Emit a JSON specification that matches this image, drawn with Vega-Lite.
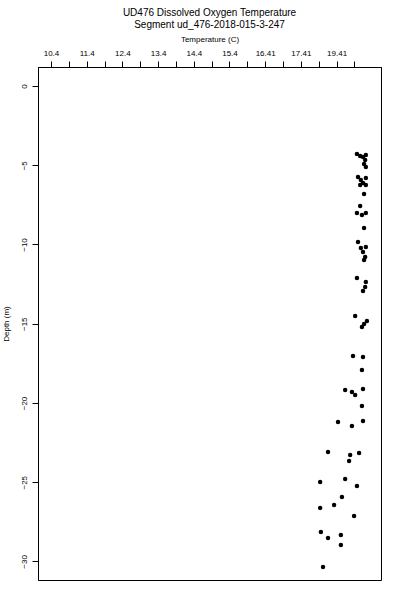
{
  "$schema": "https://vega.github.io/schema/vega-lite/v6.json",
  "autosize": {"type": "none"},
  "width": 343,
  "height": 513,
  "padding": {"left": 38, "top": 67, "right": 19, "bottom": 20},
  "background": "white",
  "title": {
    "text": ["UD476 Dissolved Oxygen Temperature", "Segment ud_476-2018-015-3-247"],
    "font": "Liberation Sans",
    "fontSize": 10,
    "fontWeight": "normal",
    "lineHeight": 12,
    "anchor": "middle",
    "color": "black",
    "offset": 5
  },
  "config": {
    "view": {"stroke": "black", "strokeWidth": 1},
    "axis": {
      "grid": false,
      "domainColor": "black",
      "tickColor": "black",
      "labelColor": "black",
      "titleColor": "black",
      "labelFont": "Liberation Sans",
      "titleFont": "Liberation Sans",
      "labelFontSize": 8,
      "titleFontSize": 8,
      "titleFontWeight": "normal",
      "tickSize": 6
    }
  },
  "data": {
    "values": [
      {"temp": 18.97, "depth": -4.29},
      {"temp": 19.06, "depth": -4.42},
      {"temp": 19.14, "depth": -4.48},
      {"temp": 19.22, "depth": -4.35},
      {"temp": 19.20, "depth": -4.67},
      {"temp": 19.17, "depth": -4.92},
      {"temp": 19.22, "depth": -5.11},
      {"temp": 19.00, "depth": -5.74},
      {"temp": 19.08, "depth": -5.93},
      {"temp": 19.22, "depth": -5.80},
      {"temp": 19.14, "depth": -6.12},
      {"temp": 19.06, "depth": -6.25},
      {"temp": 19.22, "depth": -6.25},
      {"temp": 19.17, "depth": -6.81},
      {"temp": 19.06, "depth": -7.57},
      {"temp": 18.97, "depth": -8.01},
      {"temp": 19.11, "depth": -8.14},
      {"temp": 19.22, "depth": -8.01},
      {"temp": 19.17, "depth": -8.96},
      {"temp": 19.00, "depth": -9.84},
      {"temp": 19.08, "depth": -10.22},
      {"temp": 19.22, "depth": -10.16},
      {"temp": 19.14, "depth": -10.47},
      {"temp": 19.20, "depth": -10.79},
      {"temp": 19.17, "depth": -10.98},
      {"temp": 18.97, "depth": -12.11},
      {"temp": 19.22, "depth": -12.37},
      {"temp": 19.20, "depth": -12.68},
      {"temp": 19.14, "depth": -12.93},
      {"temp": 18.92, "depth": -14.51},
      {"temp": 19.25, "depth": -14.83},
      {"temp": 19.17, "depth": -15.02},
      {"temp": 19.11, "depth": -15.21},
      {"temp": 18.86, "depth": -17.03},
      {"temp": 19.14, "depth": -17.10},
      {"temp": 19.11, "depth": -17.92},
      {"temp": 18.64, "depth": -19.18},
      {"temp": 18.83, "depth": -19.31},
      {"temp": 18.92, "depth": -19.50},
      {"temp": 19.14, "depth": -19.12},
      {"temp": 19.11, "depth": -20.19},
      {"temp": 18.44, "depth": -21.20},
      {"temp": 18.83, "depth": -21.45},
      {"temp": 19.14, "depth": -21.14},
      {"temp": 18.16, "depth": -23.09},
      {"temp": 18.78, "depth": -23.28},
      {"temp": 19.03, "depth": -23.15},
      {"temp": 18.75, "depth": -23.66},
      {"temp": 17.94, "depth": -24.98},
      {"temp": 18.64, "depth": -24.79},
      {"temp": 18.97, "depth": -25.24},
      {"temp": 18.55, "depth": -25.93},
      {"temp": 17.94, "depth": -26.62},
      {"temp": 18.33, "depth": -26.44},
      {"temp": 18.89, "depth": -27.13},
      {"temp": 17.96, "depth": -28.14},
      {"temp": 18.16, "depth": -28.52},
      {"temp": 18.52, "depth": -28.33},
      {"temp": 18.52, "depth": -28.96},
      {"temp": 18.02, "depth": -30.35}
    ]
  },
  "mark": {"type": "point", "shape": "circle", "filled": true, "color": "black", "opacity": 1, "size": 20},
  "encoding": {
    "x": {
      "field": "temp",
      "type": "quantitative",
      "scale": {"domain": [10.036, 19.644], "nice": false, "zero": false},
      "axis": {
        "orient": "top",
        "title": "Temperature (C)",
        "titlePadding": 6,
        "values": [10.4, 10.9, 11.4, 11.9, 12.4, 12.9, 13.4, 13.9, 14.4, 14.9, 15.4, 15.9, 16.4, 16.9, 17.4, 17.9, 18.4, 18.9],
        "labelExpr": "abs(datum.value - round(datum.value - 0.4) - 0.4) < 0.01 ? (datum.value > 18 ? '19.41' : datum.value > 17 ? '17.41' : datum.value > 16 ? '16.41' : format(datum.value, '.1f')) : ''",
        "labelPadding": 4,
        "labelFlush": false,
        "labelOverlap": false
      }
    },
    "y": {
      "field": "depth",
      "type": "quantitative",
      "scale": {"domain": [-31.17, 1.2], "nice": false, "zero": false},
      "axis": {
        "orient": "left",
        "title": "Depth (m)",
        "values": [0, -5, -10, -15, -20, -25, -30],
        "labelAngle": -90,
        "labelAlign": "center",
        "labelBaseline": "bottom",
        "labelPadding": 4,
        "titlePadding": 10,
        "labelFlush": false,
        "labelOverlap": false
      }
    }
  }
}
